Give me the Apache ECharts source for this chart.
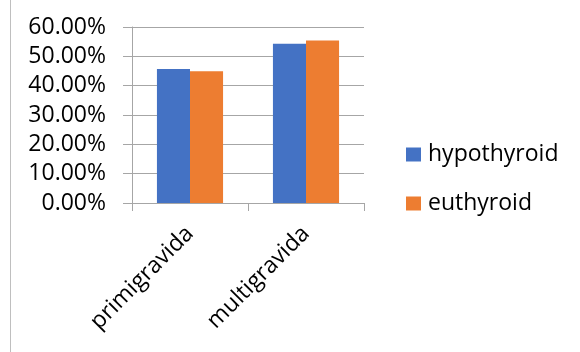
<!DOCTYPE html>
<html>
<head>
<meta charset="utf-8">
<script src="https://cdn.jsdelivr.net/npm/echarts@6/dist/echarts.min.js"></script>
<style>
  html, body { margin: 0; padding: 0; background: #fff; }
  #chart { width: 580px; height: 352px; }
</style>
</head>
<body>
<div id="chart"></div>
<script>
// Gravidity groups and the share of each thyroid status
const categories = ['primigravida', 'multigravida'];
const seriesNames = ['hypothyroid', 'euthyroid'];
const hypothyroid = [0.457, 0.543];
const euthyroid = [0.449, 0.554];
const yTicks = [0, 0.1, 0.2, 0.3, 0.4, 0.5, 0.6];

const FONT = '"Open Sans", "Liberation Sans", sans-serif';
const GRID_GRAY = '#a6a6a6';

const chart = echarts.init(document.getElementById('chart'), null, { renderer: 'canvas' });

chart.setOption({
  backgroundColor: '#ffffff',
  animation: false,
  color: ['#4472C4', '#ED7D31'],
  graphic: [{
    type: 'line',
    shape: { x1: 10.5, y1: 0, x2: 10.5, y2: 352 },
    style: { stroke: '#bfbfbf', lineWidth: 1 },
    silent: true
  }],
  grid: { left: 132, right: 216, top: 27, bottom: 149, containLabel: false },
  legend: {
    orient: 'vertical',
    left: 406,
    top: 143,
    padding: 0,
    itemWidth: 15,
    itemHeight: 14,
    itemGap: 26,
    icon: 'rect',
    data: seriesNames,
    textStyle: { fontFamily: FONT, fontSize: 23, color: '#000', padding: [0, 0, 0, 2] }
  },
  xAxis: {
    type: 'category',
    data: categories,
    axisLine: { show: true, lineStyle: { color: GRID_GRAY, width: 1 } },
    axisTick: { show: true, length: 8, alignWithLabel: false, lineStyle: { color: GRID_GRAY } },
    axisLabel: {
      rotate: 45,
      margin: 27,
      fontFamily: FONT,
      fontSize: 23,
      color: '#000'
    }
  },
  yAxis: {
    type: 'value',
    min: yTicks[0],
    max: yTicks[yTicks.length - 1],
    interval: yTicks[1] - yTicks[0],
    axisLine: { show: true, lineStyle: { color: GRID_GRAY, width: 1 } },
    axisTick: { show: true, length: 9, lineStyle: { color: GRID_GRAY } },
    splitLine: { show: true, lineStyle: { color: GRID_GRAY, width: 1 } },
    axisLabel: {
      margin: 26,
      fontFamily: FONT,
      fontSize: 23,
      color: '#000',
      formatter: v => (v * 100).toFixed(2) + '%'
    }
  },
  series: [
    {
      name: seriesNames[0],
      type: 'bar',
      data: hypothyroid,
      barGap: '0%',
      barCategoryGap: '43%'
    },
    {
      name: seriesNames[1],
      type: 'bar',
      data: euthyroid,
      barGap: '0%',
      barCategoryGap: '43%'
    }
  ]
});
</script>
</body>
</html>
